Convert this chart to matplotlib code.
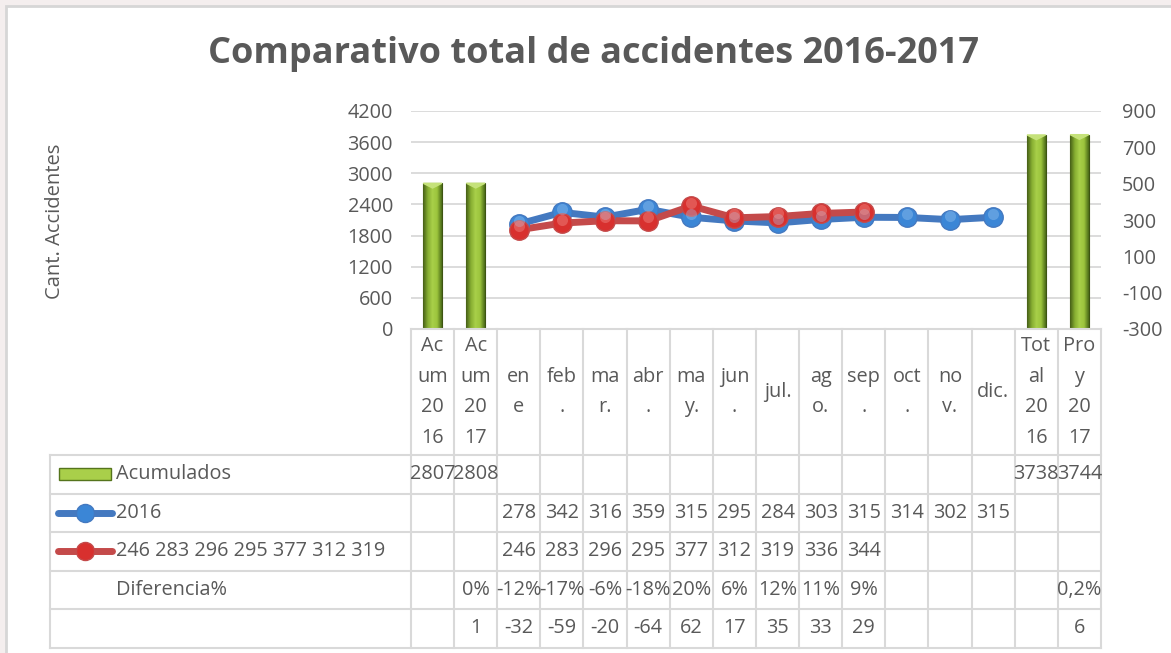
import numpy as np
import matplotlib
matplotlib.use('Agg')
import matplotlib.pyplot as plt
from matplotlib.colors import LinearSegmentedColormap
from matplotlib.lines import Line2D
from matplotlib.patches import Rectangle
import matplotlib.transforms as mtransforms

plt.rcParams['font.family'] = ['Open Sans', 'DejaVu Sans']
plt.rcParams['axes.unicode_minus'] = False

# datos
categorias = ['Ac\num\n20\n16', 'Ac\num\n20\n17', 'en\ne', 'feb\n.', 'ma\nr.', 'abr\n.',
              'ma\ny.', 'jun\n.', 'jul.', 'ag\no.', 'sep\n.', 'oct\n.', 'no\nv.', 'dic.',
              'Tot\nal\n20\n16', 'Pro\ny\n20\n17']
acumulados = [2807, 2808, None, None, None, None, None, None, None, None, None, None, None, None, 3738, 3744]
serie_2016 = [None, None, 278, 342, 316, 359, 315, 295, 284, 303, 315, 314, 302, 315, None, None]
serie_2017 = [None, None, 246, 283, 296, 295, 377, 312, 319, 336, 344, None, None, None, None, None]
diferencia_pct = ['', '0%', '-12%', '-17%', '-6%', '-18%', '20%', '6%', '12%', '11%', '9%', '', '', '', '', '0,2%']
diferencia = ['', '1', '-32', '-59', '-20', '-64', '62', '17', '35', '33', '29', '', '', '', '', '6']

nombre_bar = 'Acumulados'
nombre_2016 = '2016'
nombre_2017 = '246 283 296 295 377 312 319'
nombre_dif = 'Diferencia%'

W, H = 1171, 653
gris = '#595959'
linea = '#d9d9d9'
azul, azul_m = '#4479C0', '#3B86D6'
rojo, rojo_m = '#C44A4A', '#D8302E'
fs = 14.3

def fy(py):
    return 1 - py / H

def fx(px):
    return px / W

fig = plt.figure(figsize=(W / 100, H / 100), dpi=100, facecolor='#f4eeee')
fig.add_artist(Rectangle((fx(6), -0.1), 1, fy(6) + 0.1, transform=fig.transFigure,
                         facecolor='white', edgecolor='#d6d6d6', lw=2, zorder=-10))

ax = fig.add_axes([fx(411), fy(329), fx(1101) - fx(411), fy(111) - fy(329)])
ax.set_facecolor('none')
ax2 = ax.twinx()

# barras con degradado
cmap = LinearSegmentedColormap.from_list('verde', ['#465f17', '#86ad31', '#a9d04a', '#9bc43c', '#4a6a18'])
grad = np.linspace(0, 1, 64).reshape(1, -1)
ancho = 0.43
for i, v in enumerate(acumulados):
    if v is None:
        continue
    b = ax.bar(i, v, width=ancho, color='#8db533', edgecolor='#3d5412', lw=0.8, zorder=2)[0]
    im = ax.imshow(grad, cmap=cmap, aspect='auto', extent=[i - ancho / 2, i + ancho / 2, 0, v], zorder=2.1)
    im.set_clip_path(b)
    ax.fill([i - ancho / 2, i + ancho / 2, i], [v, v, v - 90], color='#c5e27a', zorder=2.2)

ax.set_xlim(-0.5, len(categorias) - 0.5)
ax.set_ylim(0, 4200)
ax.set_yticks(range(0, 4201, 600))
ax.set_xticks([])
ax.grid(axis='y', color=linea, lw=1.3, zorder=0)
ax.set_axisbelow(True)
ax.tick_params(axis='y', length=0, pad=13, labelsize=fs, labelcolor=gris)
for s in ax.spines.values():
    s.set_visible(False)

# lineas
def dibuja(serie, col, col_m, col_h):
    xs = [i for i, v in enumerate(serie) if v is not None]
    ys = [v for v in serie if v is not None]
    ax2.plot(xs, ys, color=col, lw=5, solid_capstyle='round', zorder=3)
    ax2.plot(xs, ys, ls='none', marker='o', ms=14, mfc=col_m, mec=col, mew=1, zorder=4)
    off = mtransforms.offset_copy(ax2.transData, fig=fig, x=0, y=2.5, units='points')
    ax2.plot(xs, ys, ls='none', marker='o', ms=8, mfc=col_h, mec='none', alpha=0.35, transform=off, zorder=5)

dibuja(serie_2016, azul, azul_m, '#a6d0f5')
dibuja(serie_2017, rojo, rojo_m, '#f5a09c')

ax2.set_ylim(-300, 900)
ax2.set_yticks(range(-300, 901, 200))
ax2.tick_params(axis='y', length=0, pad=15, labelsize=fs, labelcolor=gris)
for s in ax2.spines.values():
    s.set_visible(False)

# tabla de datos
tr = mtransforms.blended_transform_factory(ax.transData, fig.transFigure)
filas = [329, 455, 493.5, 532, 570.5, 609, 647.5]
x_izq, x_der = -0.5, len(categorias) - 0.5
izq_px = 50

for i in range(len(categorias) + 1):
    fig.add_artist(Line2D([i - 0.5, i - 0.5], [fy(329), fy(647.5)], transform=tr, color=linea, lw=1.5))
fig.add_artist(Line2D([x_izq, x_der], [fy(329), fy(329)], transform=tr, color=linea, lw=1.5))
for py in filas[1:]:
    fig.add_artist(Line2D([fx(izq_px), fx(1101)], [fy(py), fy(py)], transform=fig.transFigure, color=linea, lw=1.5))
fig.add_artist(Line2D([fx(izq_px), fx(izq_px)], [fy(455), fy(647.5)], transform=fig.transFigure, color=linea, lw=1.5))

for i, lab in enumerate(categorias):
    fig.text(i, fy(392), lab, transform=tr, ha='center', va='center', fontsize=fs,
             color=gris, linespacing=1.7)

centros = [(filas[k] + filas[k + 1]) / 2 for k in range(1, 6)]
valores = [[str(v) if v is not None else '' for v in acumulados],
           [str(v) if v is not None else '' for v in serie_2016],
           [str(v) if v is not None else '' for v in serie_2017],
           diferencia_pct, diferencia]
for fila, cy in zip(valores, centros):
    for i, t in enumerate(fila):
        if t:
            fig.text(i, fy(cy), t, transform=tr, ha='center', va='center', fontsize=fs, color=gris)

nombres = [nombre_bar, nombre_2016, nombre_2017, nombre_dif, '']
for n, cy in zip(nombres, centros):
    fig.text(fx(116), fy(cy), n, ha='left', va='center', fontsize=fs, color=gris)

# claves de leyenda
fig.add_artist(Rectangle((fx(59), fy(centros[0]) - 6 / H), fx(111) - fx(59), 12 / H,
                         transform=fig.transFigure, facecolor='#a9cf4a', edgecolor='#55741c', lw=1))
for cy, col, col_m in [(centros[1], azul, azul_m), (centros[2], rojo, rojo_m)]:
    fig.add_artist(Line2D([fx(58), fx(112)], [fy(cy), fy(cy)], transform=fig.transFigure,
                          color=col, lw=5, solid_capstyle='round'))
    fig.add_artist(Line2D([fx(85)], [fy(cy)], transform=fig.transFigure, ls='none', marker='o',
                          ms=13, mfc=col_m, mec=col))

fig.text(fx(55), fy(221), 'Cant. Accidentes', rotation=90, ha='center', va='center',
         fontsize=14.5, color=gris)
fig.text(fx(594), fy(54), 'Comparativo total de accidentes 2016-2017', ha='center', va='center',
         fontsize=26, fontweight='bold', color=gris)

fig.savefig('out.png', dpi=100, facecolor=fig.get_facecolor())
